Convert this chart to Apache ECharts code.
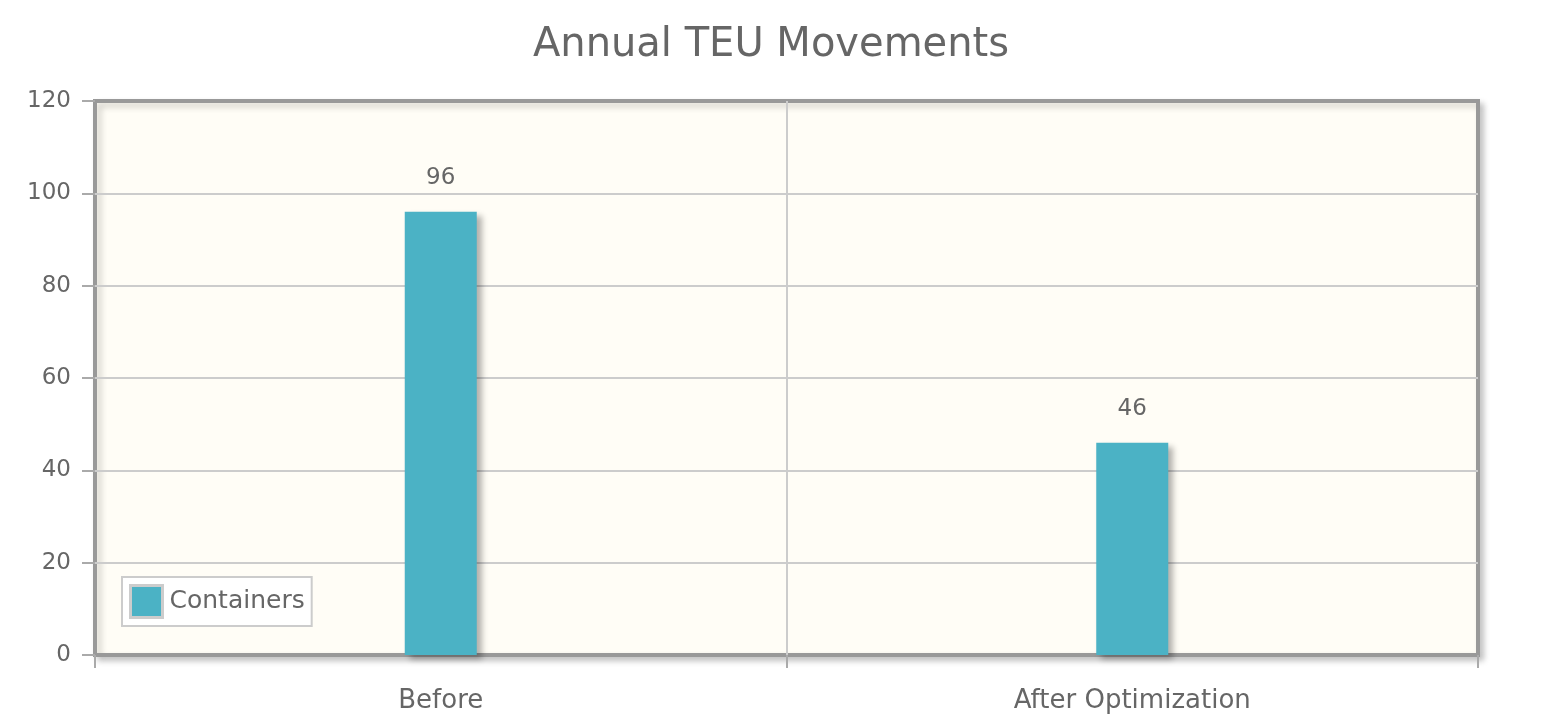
<!DOCTYPE html>
<html><head><meta charset="utf-8">
<script src="https://cdn.jsdelivr.net/npm/echarts@6/dist/echarts.min.js"></script>
<style>html,body{margin:0;padding:0;background:#fff}#c{width:1542px;height:721px}</style>
</head><body><div id="c"></div>
<script>
const categories = ["Before", "After Optimization"];
const containers = [96, 46];
const yTicks = {min: 0, max: 120, interval: 20};
const FONT = "DejaVu Sans";

const chart = echarts.init(document.getElementById('c'), null, {renderer: 'canvas'});
chart.setOption({
  animation: false,
  backgroundColor: '#ffffff',
  textStyle: {fontFamily: FONT},
  title: {
    text: 'Annual TEU Movements', left: 'center', top: 21,
    textStyle: {fontFamily: FONT, fontSize: 40, fontWeight: 'normal', color: '#666666'}
  },
  legend: {
    left: 122, top: 577, orient: 'vertical',
    backgroundColor: '#ffffff', borderColor: '#cccccc', borderWidth: 2,
    padding: [7, 7, 7, 7], itemWidth: 32, itemHeight: 32, itemGap: 4,
    icon: 'rect',
    itemStyle: {borderColor: '#cccccc', borderWidth: 3},
    textStyle: {fontFamily: FONT, fontSize: 25, color: '#666666', padding: [0, 0, 0, 2]},
    data: ['Containers']
  },
  grid: {
    left: 95, right: 64, top: 101, bottom: 66,
    show: true, backgroundColor: '#fffdf6', borderColor: '#999999', borderWidth: 4,
    shadowColor: 'rgba(0,0,0,0.2)', shadowBlur: 6, shadowOffsetX: 4, shadowOffsetY: 4
  },
  xAxis: {
    type: 'category', data: categories,
    axisLine: {show: false},
    axisTick: {show: true, length: 13, lineStyle: {color: '#aaaaaa', width: 2}},
    splitLine: {show: true, showMinLine: false, showMaxLine: false, lineStyle: {color: '#cccccc', width: 2}},
    axisLabel: {fontFamily: FONT, fontSize: 26, color: '#666666', margin: 33}
  },
  yAxis: {
    type: 'value', min: yTicks.min, max: yTicks.max, interval: yTicks.interval,
    axisLine: {show: false},
    axisTick: {show: true, length: 13, lineStyle: {color: '#aaaaaa', width: 2}},
    splitLine: {show: true, showMinLine: false, showMaxLine: false, lineStyle: {color: '#cccccc', width: 2}},
    axisLabel: {fontFamily: FONT, fontSize: 23, color: '#666666', margin: 24}
  },
  series: [{
    name: 'Containers', type: 'bar', data: containers, barWidth: 72,
    itemStyle: {color: '#4bb2c5', shadowColor: 'rgba(0,0,0,0.3)', shadowBlur: 6, shadowOffsetX: 5, shadowOffsetY: 4},
    label: {show: true, position: 'top', distance: 22, fontFamily: FONT, fontSize: 23, color: '#666666'}
  }]
});
</script></body></html>
